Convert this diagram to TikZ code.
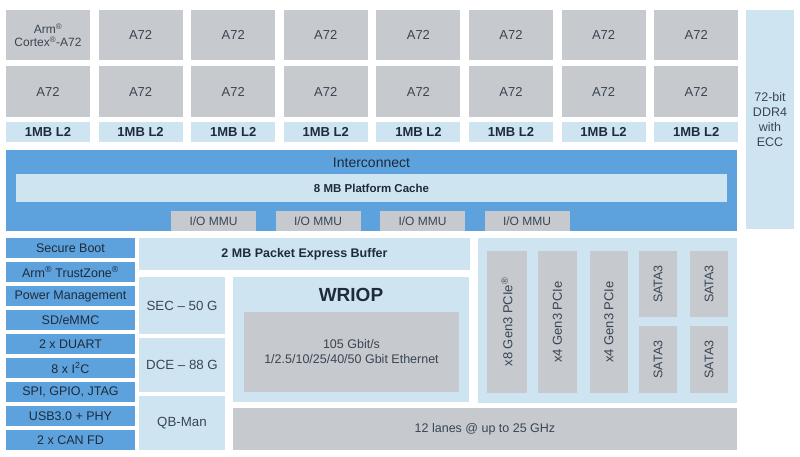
\documentclass[tikz,border=0pt]{standalone}
\usepackage{fontspec}
\setmainfont{Liberation Sans}
\usepackage{xcolor}
\usepackage{tikz}
\usetikzlibrary{positioning}

\definecolor{coregray}{HTML}{C6CACF}
\definecolor{paleblue}{HTML}{CFE4F1}
\definecolor{midblue}{HTML}{5DA2DD}
\definecolor{blocktext}{HTML}{3A4552}
\definecolor{darktext}{HTML}{1E2B3A}

\begin{document}
\begin{tikzpicture}[
  x=1pt, y=-1pt,
  blk/.style   = {rectangle, inner sep=0pt, text centered, align=center,
                  font=\fontsize{12.5}{15}\selectfont, text=blocktext},
  core/.style  = {blk, fill=coregray, minimum width=84pt, minimum height=50pt,
                  font=\fontsize{13}{14}\selectfont},
  ltwo/.style  = {blk, fill=paleblue, minimum width=84pt, minimum height=20pt,
                  font=\fontsize{13}{14}\selectfont\bfseries, text=darktext},
  mmu/.style   = {blk, fill=coregray, minimum width=85pt, minimum height=20pt,
                  font=\fontsize{12}{13}\selectfont},
  perip/.style = {blk, fill=midblue, minimum width=129pt, minimum height=20pt,
                  text=darktext},
  accel/.style = {blk, fill=paleblue, minimum width=86pt,
                  font=\fontsize{13.3}{15}\selectfont},
  slot/.style  = {blk, fill=coregray, rotate=90,
                  font=\fontsize{13}{14}\selectfont}
]
\useasboundingbox[fill=white] (0,0) rectangle (800,457);

% ===================== CORES + L2 =====================
\foreach \i in {0,...,7}{
  \pgfmathsetmacro{\cx}{48+92.6*\i}
  \ifnum\i=0
    \node[core, font=\fontsize{12}{13}\selectfont] (coreA\i) at (\cx,35)
      {Arm\textsuperscript{®}\\Cortex\textsuperscript{®}-A72};
  \else
    \node[core] (coreA\i) at (\cx,35) {A72};
  \fi
  \node[core, minimum height=51pt] (coreB\i) at (\cx,91.5) {A72};
  \node[ltwo] (ltwo\i) at (\cx,132) {1MB L2};
}

% DDR
\node[blk, fill=paleblue, minimum width=48pt, minimum height=219pt]
  (ddr) at (770,119.5) {72-bit\\DDR4\\with\\ECC};

% ===================== INTERCONNECT =====================
\node[blk, fill=midblue, minimum width=731pt, minimum height=81pt]
  (icn) at (371.5,190.5) {};
\node[blk, font=\fontsize{14}{15}\selectfont, text=darktext]
  (icnlbl) at (371.5,162.5) {Interconnect};
\node[blk, fill=paleblue, minimum width=711pt, minimum height=28pt,
      font=\fontsize{11.5}{13}\selectfont\bfseries, text=darktext]
  (cache) at (371.5,188) {8 MB Platform Cache};
\foreach \cx [count=\k] in {213.5,318,422.5,527}
  \node[mmu] (mmu\k) at (\cx,221) {I/O MMU};

% ===================== LEFT: PERIPHERALS =====================
\foreach \txt [count=\k from 0] in {Secure Boot,
    Arm\textsuperscript{®} TrustZone\textsuperscript{®},
    Power Management, SD/eMMC, 2 x DUART, 8 x I\textsuperscript{2}C,
    {SPI, GPIO, JTAG}, USB3.0 + PHY, 2 x CAN FD}
  \node[perip] (perip\k) at (70.5,248+24*\k) {\txt};

% ===================== PACKET PROCESSING =====================
\node[blk, fill=paleblue, minimum width=331pt, minimum height=32pt,
      font=\fontsize{12.5}{14}\selectfont\bfseries, text=darktext]
  (pebuf) at (304.5,254) {2 MB Packet Express Buffer};

\node[accel, minimum height=57pt] (sec) at (182,305.5) {SEC -- 50 G};
\node[accel, minimum height=54pt] (dce) at (182,365) {DCE -- 88 G};
\node[accel, minimum height=54pt] (qbman) at (182,423) {QB-Man};

\node[blk, fill=paleblue, minimum width=236pt, minimum height=125pt]
  (wriop) at (351,339.5) {};
\node[blk, font=\fontsize{19}{21}\selectfont\bfseries, text=darktext]
  (wrioplbl) at (351,294.5) {WRIOP};
\node[blk, fill=coregray, minimum width=215pt, minimum height=80pt]
  (eth) at (351.5,352) {105 Gbit/s\\1/2.5/10/25/40/50 Gbit Ethernet};

\node[blk, fill=coregray, minimum width=504pt, minimum height=42pt]
  (lanes) at (485,429) {12 lanes @ up to 25 GHz};

% ===================== RIGHT: PCIe / SATA =====================
\node[blk, fill=paleblue, minimum width=259pt, minimum height=165pt]
  (hsio) at (607.5,320.5) {};
\node[slot, minimum width=142pt, minimum height=40pt]
  (pcie1) at (507,322) {x8 Gen3 PCIe\textsuperscript{®}};
\node[slot, minimum width=142pt, minimum height=39pt]
  (pcie2) at (557.5,322) {x4 Gen3 PCIe};
\node[slot, minimum width=142pt, minimum height=38pt]
  (pcie3) at (609,322) {x4 Gen3 PCIe};
\foreach \cx [count=\k] in {658,709}{
  \node[slot, minimum width=66pt, minimum height=38pt,
        font=\fontsize{12.5}{14}\selectfont]
    (sataA\k) at (\cx,284) {SATA3};
  \node[slot, minimum width=67pt, minimum height=38pt,
        font=\fontsize{12.5}{14}\selectfont]
    (sataB\k) at (\cx,359.5) {SATA3};
}

\end{tikzpicture}
\end{document}
